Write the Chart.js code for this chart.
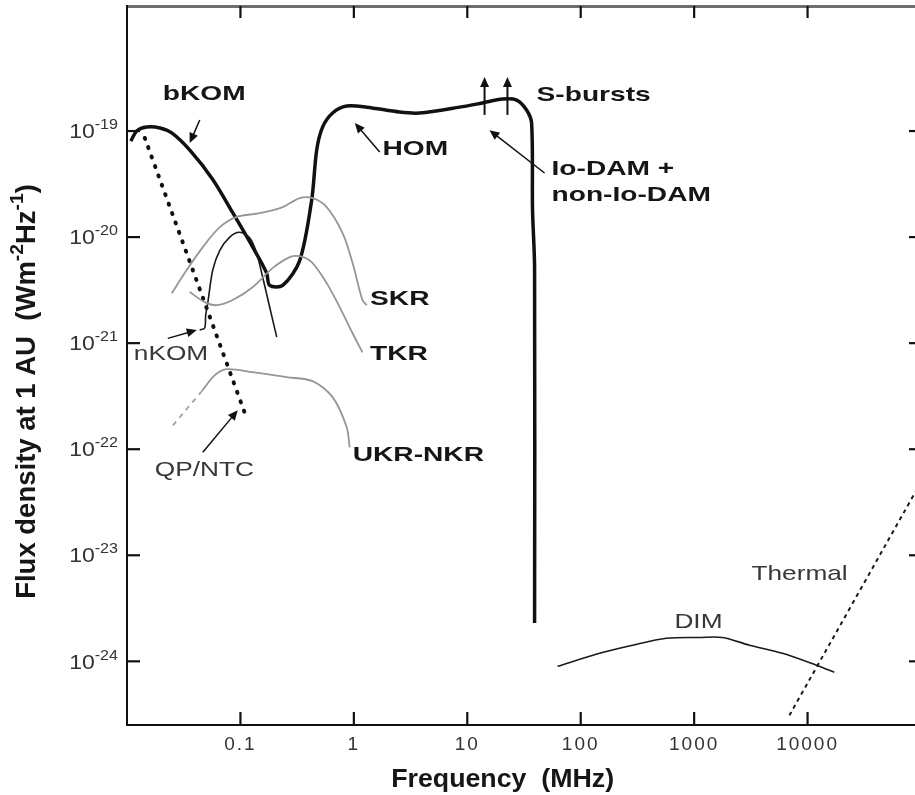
<!DOCTYPE html>
<html lang="en">
<head>
    <meta charset="UTF-8">
    <title>Jovian radio spectrum</title>
    <style>
        body {
            margin: 0;
            padding: 0;
            background: #fff;
            overflow: hidden;
        }
        .chart-box {
            width: 935px;
            height: 795px;
        }
    </style>
</head>
<body>
    <div class="chart-box">
        <canvas id="spectrumChart" width="935" height="795"></canvas>
    </div>

    <script src="https://cdn.jsdelivr.net/npm/chart.js"></script>
    <script>
        // Frequency in MHz, flux density in W m^-2 Hz^-1 at 1 AU
        const komHomDamFreq = [0.0108, 0.0122, 0.0149, 0.0195, 0.0248, 0.0358, 0.057, 0.0855, 0.128, 0.17, 0.181, 0.236, 0.333, 0.425, 0.47, 0.53, 0.65, 0.865, 1.30, 2.53, 3.80, 8.57, 13.6, 20.5, 27.2, 33.3, 36.9, 37.6, 39.2, 39.2];
        const komHomDamFlux = [8.05e-20, 1.0e-19, 1.09e-19, 1.07e-19, 9.6e-20, 6.6e-20, 3.5e-20, 1.7e-20, 8.1e-21, 4.6e-21, 3.5e-21, 3.5e-21, 6.0e-21, 2.24e-20, 6.6e-20, 1.09e-19, 1.48e-19, 1.72e-19, 1.68e-19, 1.51e-19, 1.48e-19, 1.68e-19, 1.84e-19, 2.0e-19, 1.96e-19, 1.58e-19, 1.19e-19, 1.8e-20, 5.2e-21, 2.3e-24];

        const qpFreq = [0.01435, 0.1137];
        const qpFlux = [8.6e-20, 1.95e-22];

        const skrFreq = [0.0248, 0.0336, 0.0466, 0.0658, 0.0928, 0.148, 0.236, 0.333, 0.433, 0.576, 0.796, 0.975, 1.19, 1.30];
        const skrFlux = [2.96e-21, 4.89e-21, 8.05e-21, 1.24e-20, 1.55e-20, 1.68e-20, 1.92e-20, 2.33e-20, 2.33e-20, 1.92e-20, 1.09e-20, 5.69e-21, 2.55e-21, 2.28e-21];

        const tkrFreq = [0.0357, 0.0484, 0.0618, 0.0855, 0.128, 0.192, 0.272, 0.333, 0.425, 0.576, 0.75, 0.975, 1.19];
        const tkrFlux = [3.03e-21, 2.44e-21, 2.28e-21, 2.55e-21, 3.37e-21, 5.1e-21, 6.48e-21, 6.6e-21, 5.8e-21, 3.68e-21, 2.19e-21, 1.24e-21, 8.2e-22];

        const nkomFreq = [0.0437, 0.0484, 0.0494, 0.0515, 0.057, 0.0658, 0.0805, 0.0986, 0.121, 0.139, 0.157, 0.181, 0.209];
        const nkomFlux = [1.33e-21, 1.39e-21, 1.84e-21, 2.38e-21, 4.89e-21, 7.5e-21, 1.0e-20, 1.11e-20, 9.8e-21, 7.06e-21, 4.2e-21, 2.19e-21, 1.14e-21];

        const ukrFreq = [0.0456, 0.0594, 0.0757, 0.128, 0.255, 0.433, 0.65, 0.865, 0.918];
        const ukrFlux = [3.52e-22, 4.99e-22, 5.69e-22, 5.32e-22, 4.78e-22, 4.38e-22, 3.1e-22, 1.61e-22, 1.04e-22];
        const ukrExtFreq = [0.0254, 0.0456];
        const ukrExtFlux = [1.68e-22, 3.52e-22];

        const dimFreq = [62.5, 146.6, 286, 570, 1114, 1778, 3070, 6000, 11960, 17200];
        const dimFlux = [8.97e-25, 1.19e-24, 1.42e-24, 1.65e-24, 1.68e-24, 1.68e-24, 1.42e-24, 1.19e-24, 9.2e-25, 7.9e-25];

        const thermalFreq = [6920, 100000];
        const thermalFlux = [3.1e-25, 4.9e-23];

        const xTickValues = [0.1, 1, 10, 100, 1000, 10000];
        const xTickLabels = ['0.1', '1', '10', '100', '1000', '10000'];
        const yTickValues = [1e-24, 1e-23, 1e-22, 1e-21, 1e-20, 1e-19];
        const yTickExponents = ['-24', '-23', '-22', '-21', '-20', '-19'];

        // labels and pointer arrows, placed in data coordinates
        const notes = [
            { text: 'bKOM', at: [0.0207, 2.33e-19], bold: true },
            { text: 'HOM', at: [1.79, 7.06e-20], bold: true },
            { text: 'S-bursts', at: [40.8, 2.28e-19], bold: true },
            { text: 'Io-DAM +', at: [55.3, 4.57e-20], bold: true },
            { text: 'non-Io-DAM', at: [55.3, 2.6e-20], bold: true },
            { text: 'SKR', at: [1.39, 2.72e-21], bold: true },
            { text: 'TKR', at: [1.39, 8.22e-22], bold: true },
            { text: 'UKR-NKR', at: [0.976, 9.16e-23], bold: true },
            { text: 'nKOM', at: [0.01148, 8.22e-22] },
            { text: 'QP/NTC', at: [0.01758, 6.62e-23] },
            { text: 'DIM', at: [670, 2.44e-24] },
            { text: 'Thermal', at: [3199, 6.92e-24] }
        ];
        const arrows = [
            { from: [0.0438, 1.27e-19], to: [0.0357, 7.7e-20] },
            { from: [1.69, 6.34e-20], to: [1.02, 1.19e-19] },
            { from: [48, 4.02e-20], to: [15.7, 1.02e-19] },
            { from: [0.0229, 1.11e-21], to: [0.0412, 1.33e-21] },
            { from: [0.0466, 9.37e-23], to: [0.0947, 2.33e-22] },
            { from: [14.2, 1.42e-19], to: [14.2, 3.23e-19], width: 2 },
            { from: [22.6, 1.42e-19], to: [22.6, 3.23e-19], width: 2 }
        ];

        const FONT = '"Liberation Sans", Arial, Helvetica, sans-serif';
        Chart.defaults.font.family = FONT;

        function points(freq, flux) {
            return freq.map((f, i) => ({ x: f, y: flux[i] }));
        }

        function line(freq, flux, color, width, extra) {
            return Object.assign({
                data: points(freq, flux),
                showLine: true,
                borderColor: color,
                borderWidth: width,
                pointRadius: 0,
                tension: 0.3,
                fill: false
            }, extra || {});
        }

        function fixedTicks(values) {
            return scale => {
                scale.ticks = values.map(v => ({ value: v }));
            };
        }

        // fix a scale's thickness and drop the label overhang padding
        function fixSize(size) {
            return s => {
                if (s.isHorizontal()) s.height = size; else s.width = size;
                s.paddingTop = s.paddingBottom = s.paddingLeft = s.paddingRight = 0;
            };
        }

        function richWidth(ctx, parts, o) {
            let w = 0;
            parts.forEach(p => {
                ctx.font = o.weight + ' ' + (p.sup ? o.size * 0.7 : o.size) + 'px ' + FONT;
                w += ctx.measureText(p.t).width;
            });
            return w;
        }

        function drawRich(ctx, parts, x, y, o) {
            ctx.save();
            ctx.letterSpacing = '0px';
            ctx.translate(x, y);
            if (o.rotate) ctx.rotate(o.rotate);
            ctx.scale(o.sx || 1, 1);
            ctx.fillStyle = o.color;
            ctx.textAlign = 'left';
            ctx.textBaseline = 'alphabetic';
            const w = richWidth(ctx, parts, o);
            let px = o.align === 'center' ? -w / 2 : o.align === 'right' ? -w : 0;
            const base = o.size * 0.36;
            parts.forEach(p => {
                ctx.font = o.weight + ' ' + (p.sup ? o.size * 0.7 : o.size) + 'px ' + FONT;
                ctx.fillText(p.t, px, p.sup ? base - o.size * 0.45 : base);
                px += ctx.measureText(p.t).width;
            });
            ctx.restore();
        }

        function drawArrow(ctx, x1, y1, x2, y2, width) {
            const ang = Math.atan2(y2 - y1, x2 - x1);
            const head = 10;
            ctx.save();
            ctx.strokeStyle = '#111';
            ctx.fillStyle = '#111';
            ctx.lineWidth = width;
            ctx.beginPath();
            ctx.moveTo(x1, y1);
            ctx.lineTo(x2 - Math.cos(ang) * head * 0.6, y2 - Math.sin(ang) * head * 0.6);
            ctx.stroke();
            ctx.beginPath();
            ctx.moveTo(x2, y2);
            ctx.lineTo(x2 - head * Math.cos(ang) + 4.5 * Math.sin(ang), y2 - head * Math.sin(ang) - 4.5 * Math.cos(ang));
            ctx.lineTo(x2 - head * Math.cos(ang) - 4.5 * Math.sin(ang), y2 - head * Math.sin(ang) + 4.5 * Math.cos(ang));
            ctx.closePath();
            ctx.fill();
            ctx.restore();
        }

        function tickMark(ctx, x1, y1, x2, y2) {
            ctx.beginPath();
            ctx.moveTo(x1, y1);
            ctx.lineTo(x2, y2);
            ctx.stroke();
        }

        const spacingPlugin = {
            id: 'spacing',
            beforeDraw(chart) {
                chart.ctx.letterSpacing = '2px';
            }
        };

        // inward tick marks on all four sides, at each scale's own ticks
        const tickMarksPlugin = {
            id: 'tickMarks',
            afterDraw(chart) {
                const { ctx, chartArea, scales } = chart;
                const left = chartArea.left, right = chartArea.right;
                const top = chartArea.top, bottom = chartArea.bottom;
                ctx.save();
                ctx.setLineDash([]);
                ctx.globalAlpha = 1;
                ctx.lineWidth = 2.2;
                ctx.strokeStyle = '#111';
                scales.x.ticks.forEach(t => {
                    const px = scales.x.getPixelForValue(t.value);
                    tickMark(ctx, px, bottom, px, bottom - 13);
                });
                scales.xTop.ticks.forEach(t => {
                    const px = scales.xTop.getPixelForValue(t.value);
                    tickMark(ctx, px, top, px, top + 12);
                });
                scales.y.ticks.forEach(t => {
                    const py = scales.y.getPixelForValue(t.value);
                    tickMark(ctx, left, py, left + 13, py);
                });
                scales.yRight.ticks.forEach(t => {
                    const py = scales.yRight.getPixelForValue(t.value);
                    tickMark(ctx, right, py, right - 12, py);
                });
                ctx.restore();
            }
        };

        const notesPlugin = {
            id: 'notes',
            afterDatasetsDraw(chart) {
                const { ctx, chartArea, scales: { x, y } } = chart;
                arrows.forEach(a => {
                    drawArrow(ctx,
                        x.getPixelForValue(a.from[0]), y.getPixelForValue(a.from[1]),
                        x.getPixelForValue(a.to[0]), y.getPixelForValue(a.to[1]),
                        a.width || 1.5);
                });
                notes.forEach(n => {
                    drawRich(ctx, [{ t: n.text }], x.getPixelForValue(n.at[0]), y.getPixelForValue(n.at[1]), {
                        size: 21,
                        sx: n.bold ? 1.34 : 1.25,
                        weight: n.bold ? 'bold' : 'normal',
                        color: n.bold ? '#161616' : '#383838'
                    });
                });
                // power-of-ten labels on the flux axis, at the scale's own ticks
                y.ticks.forEach((t, i) => {
                    drawRich(ctx, [{ t: '10' }, { t: yTickExponents[i], sup: true }],
                        chartArea.left - 9, y.getPixelForValue(t.value), {
                            size: 20, sx: 1.15, weight: 'normal', color: '#333', align: 'right'
                        });
                });
                // axis titles
                drawRich(ctx, [{ t: 'Frequency  (MHz)' }], x.getPixelForValue(20.5), chartArea.bottom + 53, {
                    size: 25, sx: 1.07, weight: 'bold', color: '#161616', align: 'center'
                });
                drawRich(ctx, [
                    { t: 'Flux density at 1 AU  (Wm' }, { t: '-2', sup: true },
                    { t: 'Hz' }, { t: '-1', sup: true }, { t: ')' }
                ], chartArea.left - 102, y.getPixelForValue(3.5e-22), {
                    size: 27.5, weight: 'bold', color: '#161616', align: 'center', rotate: -Math.PI / 2
                });
            }
        };

        const noGrid = { display: false, drawTicks: false };

        new Chart(document.getElementById('spectrumChart'), {
            type: 'scatter',
            data: {
                datasets: [
                    line(skrFreq, skrFlux, '#969696', 1.8),
                    line(tkrFreq, tkrFlux, '#969696', 1.8),
                    line(ukrFreq, ukrFlux, '#969696', 1.8),
                    line(ukrExtFreq, ukrExtFlux, '#a0a0a0', 1.8, { borderDash: [5, 5] }),
                    line(nkomFreq, nkomFlux, '#1a1a1a', 1.6),
                    line(qpFreq, qpFlux, '#111', 4, { borderDash: [1, 9], borderCapStyle: 'round' }),
                    line(komHomDamFreq, komHomDamFlux, '#111', 3.5),
                    line(dimFreq, dimFlux, '#1a1a1a', 1.6),
                    line(thermalFreq, thermalFlux, '#1a1a1a', 2, { borderDash: [4, 4] })
                ]
            },
            options: {
                responsive: false,
                animation: false,
                layout: { padding: 0, autoPadding: false },
                plugins: {
                    legend: { display: false },
                    tooltip: { enabled: false }
                },
                scales: {
                    x: {
                        type: 'logarithmic',
                        position: 'bottom',
                        min: 0.01,
                        max: 100000,
                        afterBuildTicks: fixedTicks(xTickValues),
                        afterFit: fixSize(70),
                        border: { color: '#111', width: 2 },
                        grid: noGrid,
                        ticks: {
                            autoSkip: false,
                            maxRotation: 0,
                            padding: 8,
                            color: '#333',
                            font: { size: 19 },
                            callback: (v, i) => xTickLabels[i]
                        }
                    },
                    xTop: {
                        type: 'logarithmic',
                        position: 'top',
                        min: 0.01,
                        max: 100000,
                        afterBuildTicks: fixedTicks(xTickValues),
                        afterFit: fixSize(6),
                        border: { color: '#6e6e6e', width: 3 },
                        grid: noGrid,
                        ticks: { display: false }
                    },
                    y: {
                        type: 'logarithmic',
                        position: 'left',
                        min: 2.51e-25,
                        max: 1.51e-18,
                        afterBuildTicks: fixedTicks(yTickValues),
                        afterFit: fixSize(127),
                        border: { color: '#111', width: 2 },
                        grid: noGrid,
                        ticks: { display: false }
                    },
                    yRight: {
                        type: 'logarithmic',
                        position: 'right',
                        min: 2.51e-25,
                        max: 1.51e-18,
                        afterBuildTicks: fixedTicks(yTickValues),
                        afterFit: fixSize(14),
                        border: { color: '#222', width: 2 },
                        grid: noGrid,
                        ticks: { display: false }
                    }
                }
            },
            plugins: [spacingPlugin, tickMarksPlugin, notesPlugin]
        });
    </script>
</body>
</html>
